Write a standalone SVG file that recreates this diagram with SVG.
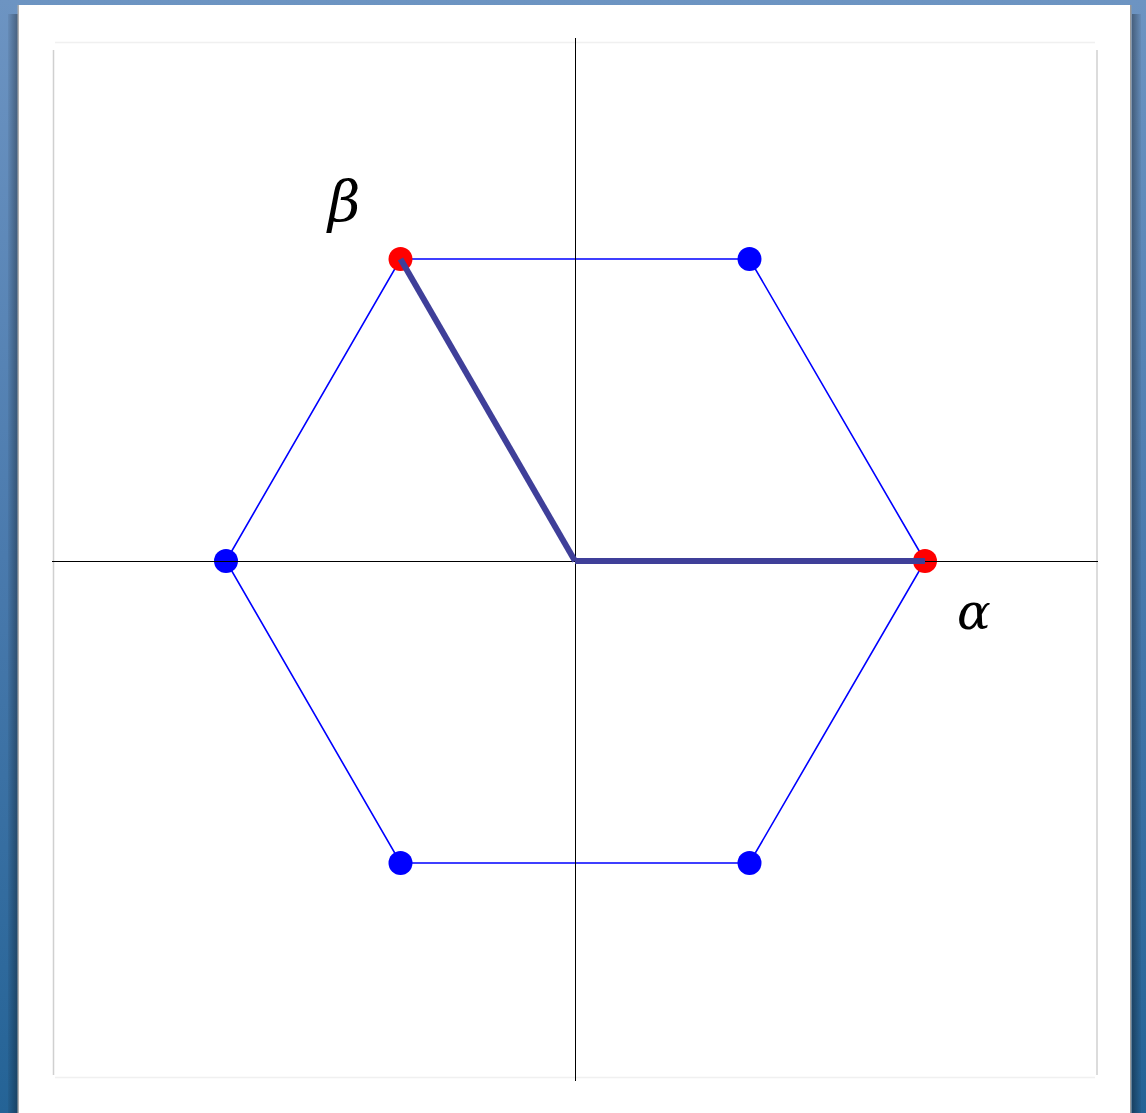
<svg xmlns="http://www.w3.org/2000/svg" width="1146" height="1113" viewBox="0 0 1146 1113">
  <style>
    .hex { fill: none; stroke: #0000ff; stroke-width: 1.6; }
    .axis { stroke: #000; stroke-width: 1; }
    .vec { stroke: #3f3f99; stroke-width: 6; stroke-linecap: butt; }
    .dot-b { fill: #0000ff; }
    .dot-r { fill: #ff0000; }
    .lbl { font-family: "DejaVu Serif", "Liberation Serif", serif; font-style: italic; font-size: 50px; fill: #000; }
  </style>
  <defs>
    <linearGradient id="bg" x1="0" y1="0" x2="0" y2="1">
      <stop offset="0" stop-color="#6d94c2"/>
      <stop offset="0.5" stop-color="#4a7aad"/>
      <stop offset="1" stop-color="#246396"/>
    </linearGradient>
    <linearGradient id="shL" x1="0" y1="0" x2="1" y2="0">
      <stop offset="0" stop-color="#000" stop-opacity="0.05"/>
      <stop offset="1" stop-color="#000" stop-opacity="0.35"/>
    </linearGradient>
    <linearGradient id="shR" x1="0" y1="0" x2="1" y2="0">
      <stop offset="0" stop-color="#000" stop-opacity="0.35"/>
      <stop offset="1" stop-color="#000" stop-opacity="0.05"/>
    </linearGradient>
  </defs>
  <rect x="0" y="0" width="1146" height="1113" fill="url(#bg)"/>
  <rect x="8" y="14" width="10" height="1099" fill="url(#shL)"/>
  <rect x="1132" y="14" width="9" height="1099" fill="url(#shR)"/>
  <rect x="18" y="5" width="1113" height="1108" fill="#ffffff"/>
  <rect x="17.5" y="5" width="1.5" height="1108" fill="#b0b0b0"/>
  <rect x="1130" y="5" width="1.5" height="1108" fill="#9a9a9a"/>

  <g id="frame">
    <line x1="55" y1="42.5" x2="1095" y2="42.5" stroke="#f0f0f0" stroke-width="1.5"/>
    <line x1="53.5" y1="50" x2="53.5" y2="1075" stroke="#d0d0d0" stroke-width="1.5"/>
    <line x1="1097" y1="50" x2="1097" y2="1075" stroke="#d0d0d0" stroke-width="1.5"/>
    <line x1="55" y1="1077.5" x2="1095" y2="1077.5" stroke="#f0f0f0" stroke-width="1.5"/>
  </g>

  <g id="connectors">
    <polygon class="hex" points="925,561 749.5,259 400.5,259 226,561 400.5,863 749.5,863"/>
  </g>

  <g id="nodes">
    <circle id="v1" class="dot-r" cx="925" cy="561" r="12"/>
    <circle id="v2" class="dot-b" cx="749.5" cy="259" r="12"/>
    <circle id="v3" class="dot-r" cx="400.5" cy="259" r="12"/>
    <circle id="v4" class="dot-b" cx="226" cy="561" r="12"/>
    <circle id="v5" class="dot-b" cx="400.5" cy="863" r="12"/>
    <circle id="v6" class="dot-b" cx="749.5" cy="863" r="12"/>
  </g>

  <g id="axes">
    <line class="axis" x1="52" y1="561.5" x2="1098" y2="561.5"/>
    <line class="axis" x1="575.5" y1="38" x2="575.5" y2="1081"/>
  </g>

  <g id="vectors">
    <line class="vec" x1="575" y1="561" x2="925" y2="561"/>
    <line class="vec" x1="575" y1="561" x2="400.5" y2="259"/>
  </g>

  <g id="labels">
    <text class="lbl" x="328" y="221" style="font-size:56px">β</text>
    <text class="lbl" x="957" y="629">α</text>
  </g>
</svg>
